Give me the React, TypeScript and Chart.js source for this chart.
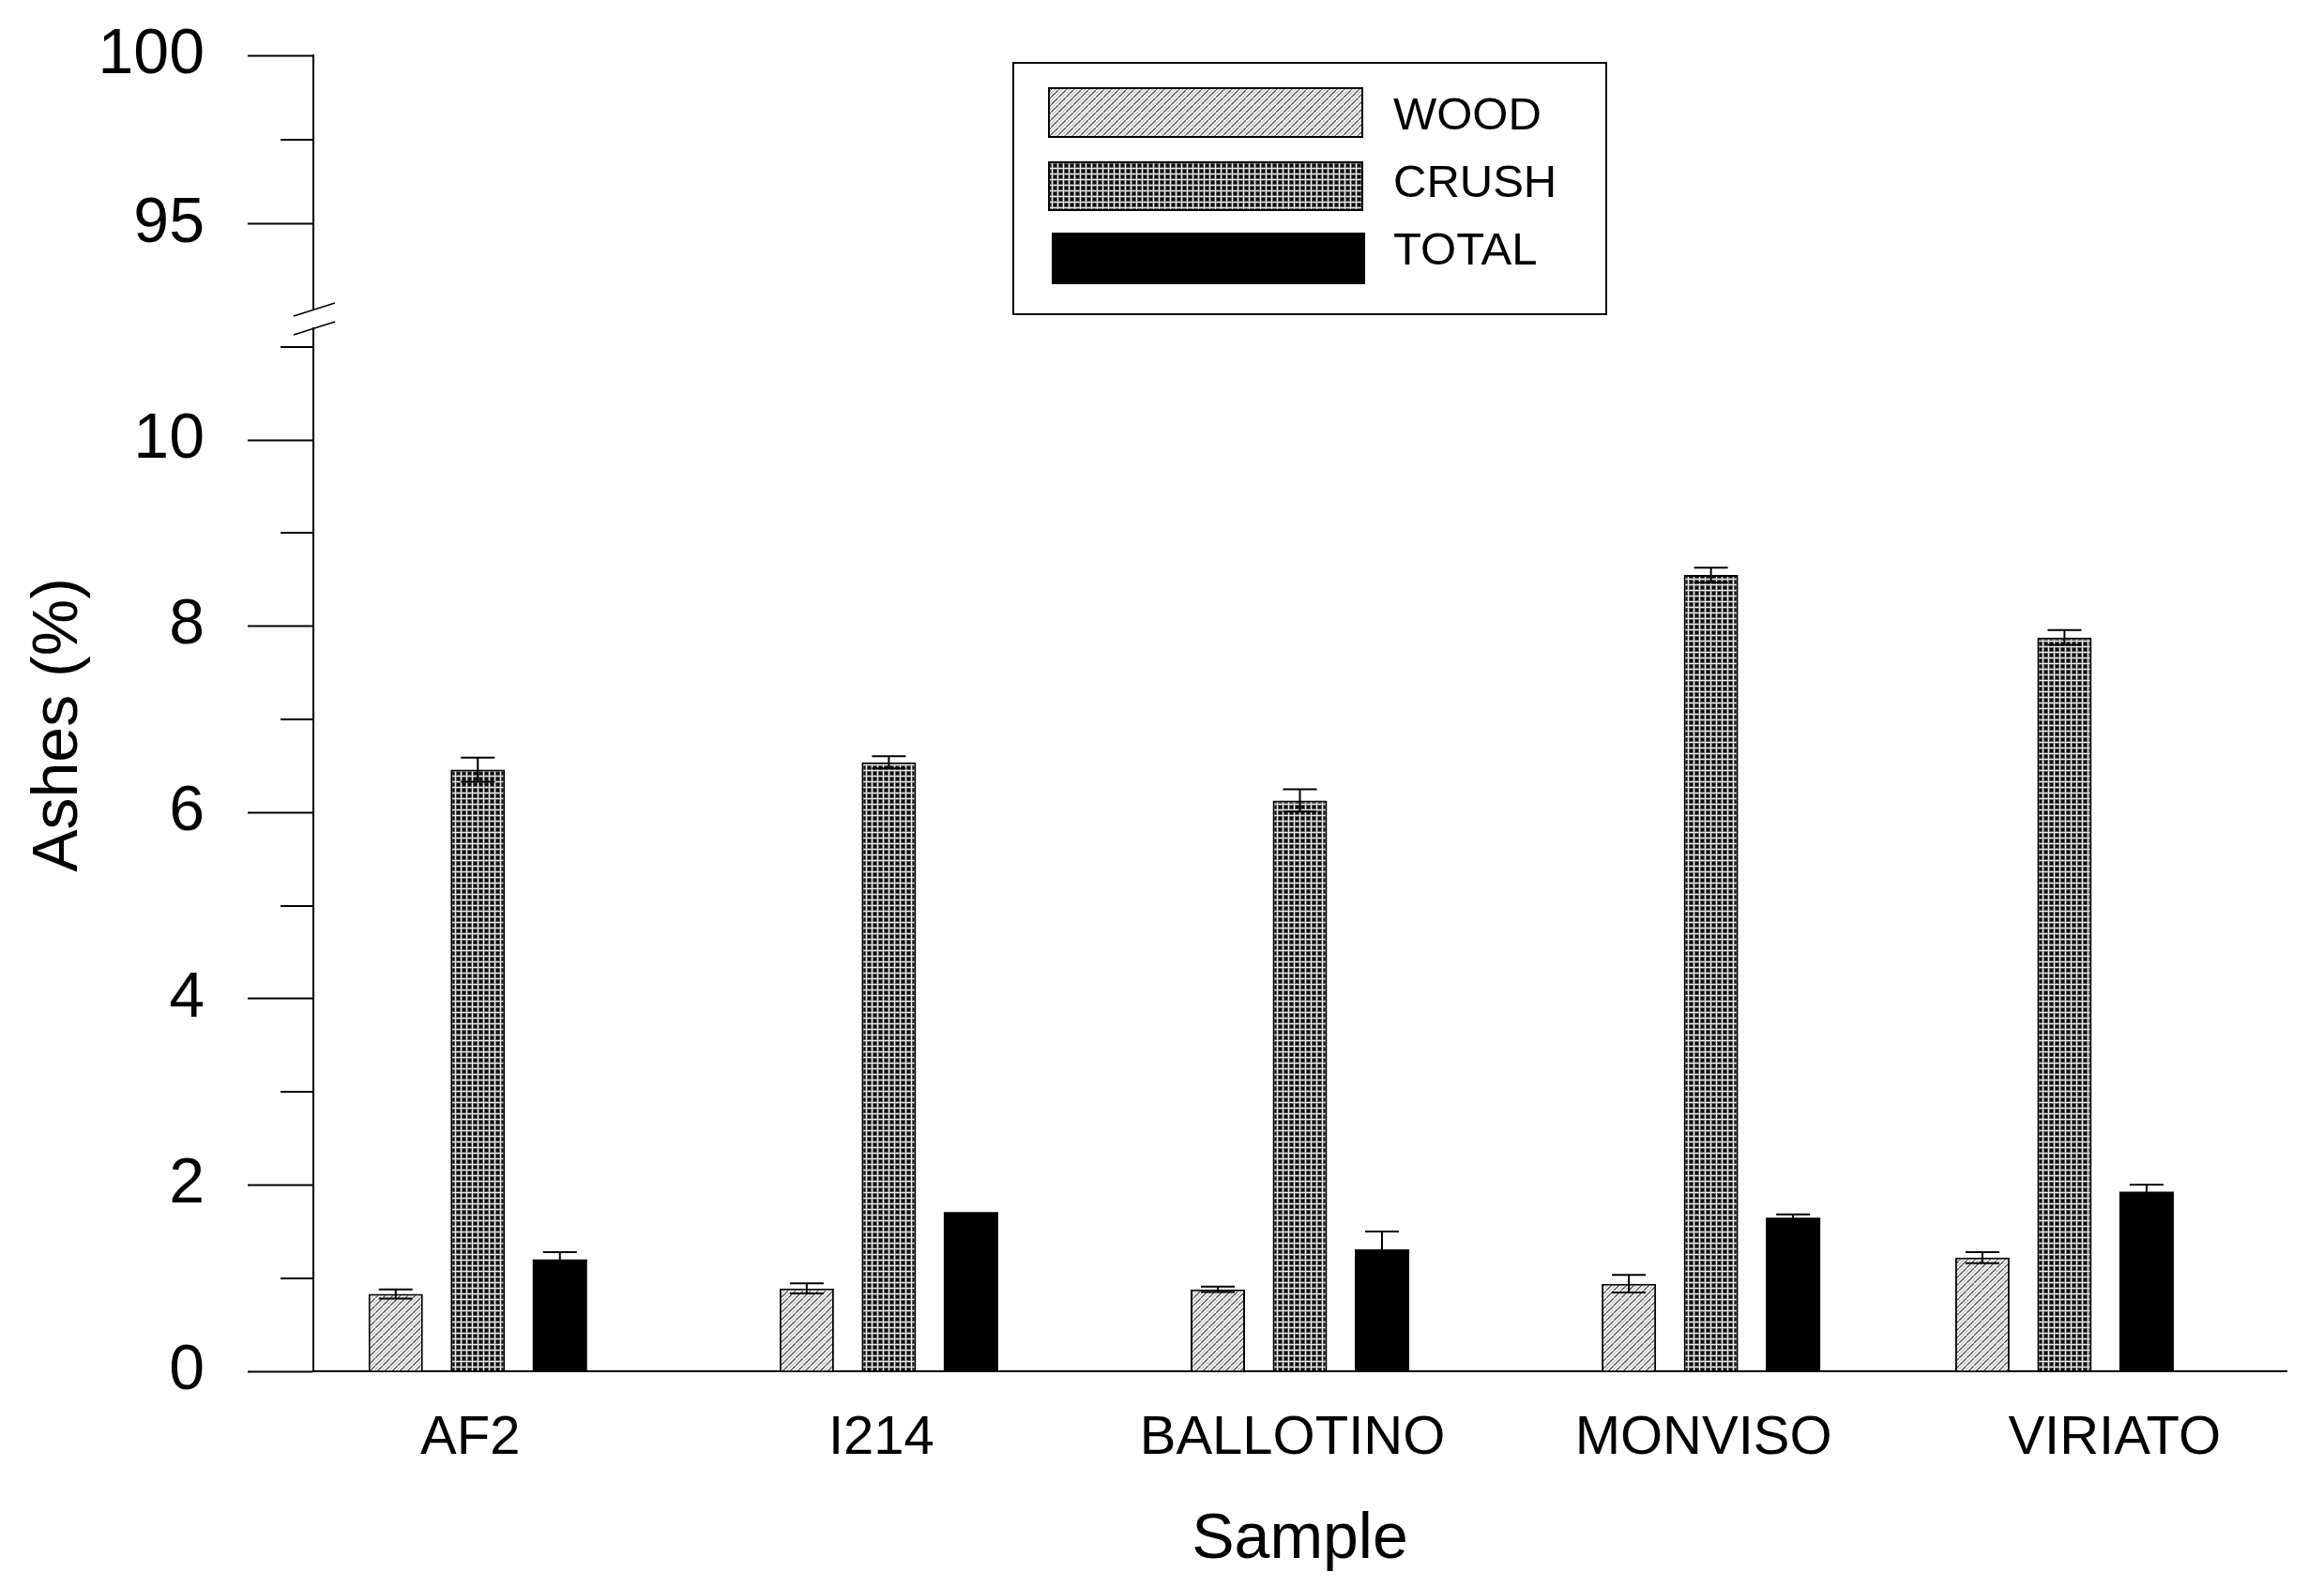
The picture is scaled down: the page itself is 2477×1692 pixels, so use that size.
import React, { useEffect, useRef } from 'react';
import { Chart, registerables } from 'chart.js';

Chart.register(...registerables);

// ---------------- data ----------------
const SAMPLES = ['AF2', 'I214', 'BALLOTINO', 'MONVISO', 'VIRIATO'];
// position of each bar group along the x axis (the last group is drawn slightly left in the original)
const SAMPLE_POS = [0, 1, 2, 3, 3.86];
const SERIES = ['WOOD', 'CRUSH', 'TOTAL'];
const WOOD = [0.83, 0.89, 0.88, 0.94, 1.22];
const WOOD_ERR = [0.05, 0.055, 0.03, 0.095, 0.06];
const CRUSH = [6.46, 6.54, 6.13, 8.55, 7.88];
const CRUSH_ERR = [0.13, 0.065, 0.12, 0.08, 0.08];
const TOTAL = [1.2, 1.71, 1.31, 1.65, 1.93];
const TOTAL_ERR = [0.08, 0, 0.19, 0.035, 0.075];
const Y_MAJOR_LOW = [0, 2, 4, 6, 8, 10];
const Y_MINOR_LOW = [1, 3, 5, 7, 9, 11];
const Y_MAJOR_HIGH = [95, 100];
const Y_MINOR_HIGH = [97.5];
const Y_LOW_RANGE = [0, 11.2];
const Y_HIGH_RANGE = [92.47, 100];
const X_RANGE = [-0.4, 4.4];

const FONT = "'Liberation Sans', Arial, sans-serif";

function makeWoodPattern(): CanvasPattern | string {
  const c = document.createElement('canvas');
  c.width = 8;
  c.height = 8;
  const g = c.getContext('2d');
  if (!g) return '#ddd';
  g.fillStyle = '#ffffff';
  g.fillRect(0, 0, 8, 8);
  g.lineWidth = 1.3;
  g.strokeStyle = '#4a4a4a';
  g.beginPath();
  g.moveTo(-1, 9);
  g.lineTo(9, -1);
  g.stroke();
  g.strokeStyle = '#c4c4c4';
  g.beginPath();
  g.moveTo(3, 9);
  g.lineTo(9, 3);
  g.moveTo(-1, 5);
  g.lineTo(5, -1);
  g.stroke();
  return g.createPattern(c, 'repeat') || '#ddd';
}

function makeCrushPattern(): CanvasPattern | string {
  const c = document.createElement('canvas');
  c.width = 6;
  c.height = 6;
  const g = c.getContext('2d');
  if (!g) return '#777';
  g.fillStyle = '#ececec';
  g.fillRect(0, 0, 6, 6);
  g.fillStyle = '#5e5e5e';
  g.fillRect(0, 0, 5, 5);
  g.fillStyle = '#0a0a0a';
  g.fillRect(1, 1, 3, 3);
  return g.createPattern(c, 'repeat') || '#777';
}

export default function App() {
  const ref = useRef<HTMLCanvasElement | null>(null);

  useEffect(() => {
    const canvas = ref.current;
    if (!canvas) return;
    const wood = makeWoodPattern();
    const crush = makeCrushPattern();
    const fills = [wood, crush, '#000000'];
    const values = [WOOD, CRUSH, TOTAL];
    const errors = [WOOD_ERR, CRUSH_ERR, TOTAL_ERR];

    const decorations = {
      id: 'decorations',
      afterDatasetsDraw(chart: any) {
        const ctx = chart.ctx;
        const y = chart.scales.y;
        ctx.save();
        ctx.strokeStyle = '#000';
        ctx.lineWidth = 2;
        values.forEach((vals, di) => {
          const meta = chart.getDatasetMeta(di);
          meta.data.forEach((bar: any, i: number) => {
            const e = errors[di][i];
            if (!e) return;
            const hi = y.getPixelForValue(vals[i] + e);
            const lo = y.getPixelForValue(vals[i] - e);
            const cx = bar.x;
            ctx.beginPath();
            ctx.moveTo(cx, lo);
            ctx.lineTo(cx, hi);
            ctx.moveTo(cx - 18, hi);
            ctx.lineTo(cx + 18, hi);
            ctx.moveTo(cx - 18, lo);
            ctx.lineTo(cx + 18, lo);
            ctx.stroke();
          });
        });
        ctx.restore();
      },
      afterDraw(chart: any) {
        const ctx = chart.ctx;
        const yLow = chart.scales.y;
        const yHigh = chart.scales.yTop;
        const ax = yLow.right;
        ctx.save();
        ctx.strokeStyle = '#000';
        // minor ticks
        ctx.lineWidth = 2;
        ctx.beginPath();
        Y_MINOR_LOW.forEach((v) => {
          const p = Math.round(yLow.getPixelForValue(v));
          ctx.moveTo(ax - 35, p);
          ctx.lineTo(ax, p);
        });
        Y_MINOR_HIGH.forEach((v) => {
          const p = Math.round(yHigh.getPixelForValue(v));
          ctx.moveTo(ax - 35, p);
          ctx.lineTo(ax, p);
        });
        ctx.stroke();
        // axis break marks
        ctx.lineWidth = 1.5;
        ctx.beginPath();
        const b1 = yHigh.bottom;
        const b2 = yLow.top;
        ctx.moveTo(ax - 21, b1 + 7);
        ctx.lineTo(ax + 23, b1 - 7);
        ctx.moveTo(ax - 21, b2 + 7);
        ctx.lineTo(ax + 23, b2 - 7);
        ctx.stroke();

        // y axis title
        ctx.fillStyle = '#000';
        ctx.font = `68px ${FONT}`;
        ctx.textAlign = 'center';
        ctx.textBaseline = 'alphabetic';
        ctx.save();
        ctx.translate(82, 773);
        ctx.rotate(-Math.PI / 2);
        ctx.fillText('Ashes (%)', 0, 0);
        ctx.restore();

        // legend
        const lx = 1080, ly = 67, lw = 632, lh = 268;
        ctx.lineWidth = 2;
        ctx.strokeRect(lx, ly, lw, lh);
        const rows = [
          { x: 1117, y: 93, w: 336, h: 54 },
          { x: 1117, y: 172, w: 336, h: 53 },
          { x: 1121, y: 248, w: 334, h: 55 },
        ];
        const textY = [124, 196, 268];
        ctx.font = `49px ${FONT}`;
        ctx.textAlign = 'left';
        ctx.textBaseline = 'middle';
        SERIES.forEach((name, i) => {
          const r = rows[i];
          ctx.fillStyle = fills[i] as any;
          ctx.fillRect(r.x, r.y, r.w, r.h);
          if (i < 2) {
            ctx.lineWidth = 2;
            ctx.strokeRect(r.x + 1, r.y + 1, r.w - 2, r.h - 2);
          }
          ctx.fillStyle = '#000';
          ctx.fillText(name, 1485, textY[i]);
        });
        ctx.restore();
      },
    };

    const yCommon = {
      type: 'linear',
      position: 'left',
      stack: 'ax',
      beginAtZero: false,
      afterFit: (s: any) => {
        s.width = 334;
        s.paddingTop = 0;
        s.paddingBottom = 0;
      },
      grid: {
        display: true,
        drawOnChartArea: false,
        color: '#000',
        tickColor: '#000',
        tickLength: 70,
        tickWidth: 2,
      },
      border: { display: true, color: '#000', width: 2 },
      ticks: { color: '#000', font: { family: FONT, size: 68 }, padding: 46 },
    };

    const chart = new Chart(canvas, {
      type: 'bar',
      data: {
        datasets: SERIES.map((name, di) => ({
          label: name,
          data: SAMPLE_POS.map((x, i) => ({ x, y: values[di][i] })),
          backgroundColor: fills[di] as any,
          borderColor: '#000',
          borderWidth: di < 2 ? 2 : 0,
          xAxisID: 'x',
          yAxisID: 'y',
          categoryPercentage: 0.6967,
          barPercentage: 0.663,
        })),
      },
      options: {
        responsive: false,
        animation: false,
        events: [],
        layout: { padding: { top: 59, right: 40, bottom: 0, left: 0 } },
        plugins: {
          legend: { display: false },
          tooltip: { enabled: false },
          title: { display: false },
        },
        scales: {
          x: {
            type: 'linear',
            position: 'bottom',
            min: X_RANGE[0],
            max: X_RANGE[1],
            offset: false,
            afterBuildTicks: (s: any) => {
              s.ticks = SAMPLES.map((_, i) => ({ value: i }));
            },
            afterFit: (s: any) => {
              s.height = 230;
              s.paddingLeft = 0;
              s.paddingRight = 0;
            },
            grid: { display: false, drawTicks: false, offset: false },
            border: { display: true, color: '#000', width: 2 },
            ticks: {
              color: '#000',
              font: { family: FONT, size: 58 },
              padding: 37,
              labelOffset: -8,
              maxRotation: 0,
              autoSkip: false,
              callback: (_v: any, i: number) => SAMPLES[i],
            },
            title: {
              display: true,
              text: 'Sample',
              color: '#000',
              font: { family: FONT, size: 68 },
              padding: { top: 0, bottom: 9 },
            },
          },
          y: {
            ...yCommon,
            stackWeight: 1112,
            min: Y_LOW_RANGE[0],
            max: Y_LOW_RANGE[1],
            afterBuildTicks: (s: any) => {
              s.ticks = Y_MAJOR_LOW.map((v) => ({ value: v }));
            },
          },
          yGap: {
            type: 'linear',
            position: 'left',
            stack: 'ax',
            stackWeight: 20,
            min: 0,
            max: 1,
            display: true,
            afterFit: (s: any) => {
              s.width = 334;
              s.paddingTop = 0;
              s.paddingBottom = 0;
            },
            grid: { display: false, drawTicks: false },
            border: { display: false },
            ticks: { display: false },
          },
          yTop: {
            ...yCommon,
            stackWeight: 271,
            min: Y_HIGH_RANGE[0],
            max: Y_HIGH_RANGE[1],
            afterBuildTicks: (s: any) => {
              s.ticks = Y_MAJOR_HIGH.map((v) => ({ value: v }));
            },
          },
        } as any,
      },
      plugins: [decorations],
    } as any);

    return () => {
      chart.destroy();
    };
  }, []);

  return (
    <div style={{ position: 'fixed', left: 0, top: 0, width: 2477, height: 1692, background: '#fff' }}>
      <canvas ref={ref} width={2477} height={1692} style={{ display: 'block', width: 2477, height: 1692 }} />
    </div>
  );
}
